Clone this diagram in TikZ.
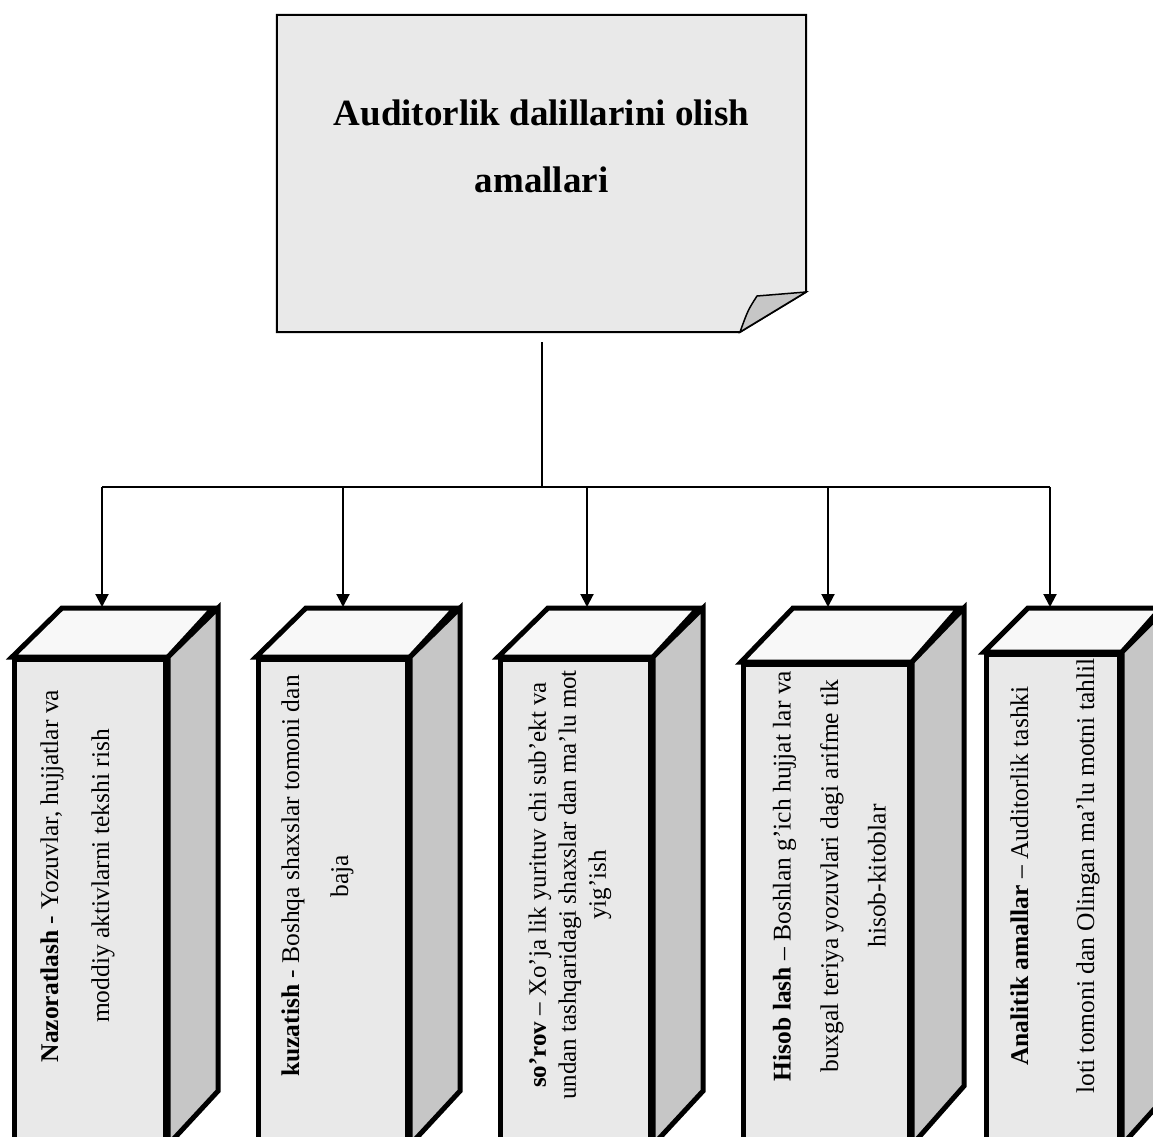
\documentclass[tikz,border=0pt]{standalone}
\usepackage{fontspec}
\setmainfont{Liberation Serif}
\usetikzlibrary{arrows.meta}
\definecolor{granite}{HTML}{E9E9E9}
\definecolor{lid}{HTML}{F8F8F8}
\definecolor{flank}{HTML}{C6C6C6}

\begin{document}
\begin{tikzpicture}[x=1pt,y=-1pt,
    front/.style={draw,line width=5pt,fill=granite,anchor=north west,inner sep=0pt},
    topface/.style={draw,line width=5pt,fill=lid,line join=miter},
    sideface/.style={draw,line width=5pt,fill=flank,line join=miter},
    coltext/.style={rotate=90,align=center,inner sep=0pt},
    link/.style={line width=2pt,-{Triangle[length=13pt,width=13pt]}}]

    \clip (0,0) rectangle (1153,1136);

    % title sheet with folded corner
    \node[minimum width=529pt,minimum height=317pt,inner sep=0pt] (sheet) at (541.5,173.5) {};
    \draw[line width=2pt,fill=granite] (sheet.north west) -- (sheet.north east) -- (806,292) -- (740,332) -- (sheet.south west) -- cycle;
    \draw[line width=1.5pt,fill=flank] (740,332) .. controls (748,310) .. (757,296) -- (806,292) -- cycle;
    \node[align=center,font=\fontsize{37}{67}\selectfont\bfseries] (title) at (541.5,146)
          {Auditorlik dalillarini olish\\amallari};

    % bus
    \coordinate (split) at (541.5,487);
    \coordinate (b1) at (102,487);
    \coordinate (b2) at (343,487);
    \coordinate (b3) at (587,487);
    \coordinate (b4) at (828,487);
    \coordinate (b5) at (1050,487);
    \draw[line width=2pt] ([yshift=-10pt]sheet.south) -- (split);
    \draw[line width=2pt] (b1) -- (b5);

    % boxes
    \node[front,minimum width=151pt,minimum height=483pt] (nazorat) at (12,657) {};
    \draw[topface] (nazorat.north west) -- ++(50,-49) -- ++(151,0) -- (nazorat.north east) -- cycle;
    \draw[sideface] (nazorat.north east) -- ++(50,-49) -- ++(0,483) -- (nazorat.south east) -- cycle;

    \node[front,minimum width=149pt,minimum height=483pt] (kuzatish) at (256,657) {};
    \draw[topface] (kuzatish.north west) -- ++(50,-49) -- ++(149,0) -- (kuzatish.north east) -- cycle;
    \draw[sideface] (kuzatish.north east) -- ++(50,-49) -- ++(0,483) -- (kuzatish.south east) -- cycle;

    \node[front,minimum width=150pt,minimum height=483pt] (sorov) at (498,657) {};
    \draw[topface] (sorov.north west) -- ++(50,-49) -- ++(150,0) -- (sorov.north east) -- cycle;
    \draw[sideface] (sorov.north east) -- ++(50,-49) -- ++(0,483) -- (sorov.south east) -- cycle;

    \node[front,minimum width=166pt,minimum height=478pt] (hisob) at (741,662) {};
    \draw[topface] (hisob.north west) -- ++(52,-54) -- ++(166,0) -- (hisob.north east) -- cycle;
    \draw[sideface] (hisob.north east) -- ++(52,-54) -- ++(0,478) -- (hisob.south east) -- cycle;

    \node[front,minimum width=133pt,minimum height=488pt] (tahlil) at (984,652) {};
    \draw[topface] (tahlil.north west) -- ++(44,-44) -- ++(133,0) -- (tahlil.north east) -- cycle;
    \draw[sideface] (tahlil.north east) -- ++(44,-44) -- ++(0,488) -- (tahlil.south east) -- cycle;

    % tops of the boxes
    \coordinate (t1) at (102,607);
    \coordinate (t2) at (343,607);
    \coordinate (t3) at (587,607);
    \coordinate (t4) at (828,607);
    \coordinate (t5) at (1050,607);
    \draw[link] (b1) -- (t1);
    \draw[link] (b2) -- (t2);
    \draw[link] (b3) -- (t3);
    \draw[link] (b4) -- (t4);
    \draw[link] (b5) -- (t5);

    % texts
    \node[coltext,font=\fontsize{25.5}{51}\selectfont] (nazoratT) at (77.5,876)
        {\textbf{Nazoratlash} - Yozuvlar, hujjatlar va\\moddiy aktivlarni tekshi rish};
    \node[coltext,font=\fontsize{25.5}{49}\selectfont] (kuzatishT) at (317.5,876)
        {\textbf{kuzatish} - Boshqa shaxslar tomoni dan\\baja};
    \node[coltext,font=\fontsize{25}{30}\selectfont] (sorovT) at (570,885)
        {\textbf{so’rov} – Xo’ja lik yurituv chi sub’ekt va\\undan tashqaridagi shaxslar dan ma’lu mot\\yig’ish};
    \node[coltext,font=\fontsize{25.5}{47.5}\selectfont] (hisobT) at (829.5,876)
        {\textbf{Hisob lash} – Boshlan g’ich hujjat lar va\\buxgal teriya yozuvlari dagi arifme tik\\hisob-kitoblar};
    \node[coltext,font=\fontsize{25.5}{66}\selectfont] (tahlilT) at (1055,876)
        {\textbf{Analitik amallar} – Auditorlik tashki\\loti tomoni dan Olingan ma’lu motni tahlil};
\end{tikzpicture}
\end{document}
